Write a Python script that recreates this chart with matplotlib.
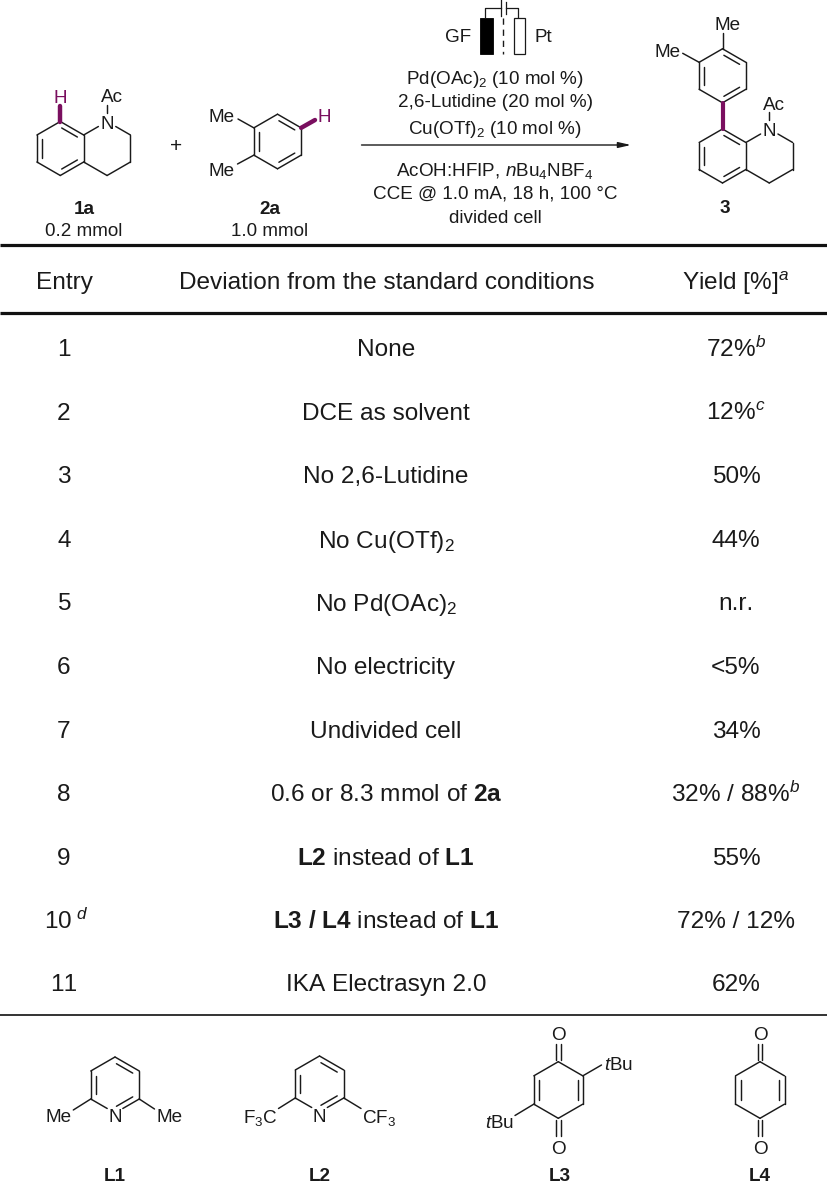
import numpy as np
import matplotlib
matplotlib.use("Agg")
import matplotlib.pyplot as plt
from matplotlib.patches import Rectangle

plt.rcParams['font.family'] = ['Liberation Sans', 'DejaVu Sans']
plt.rcParams['mathtext.fontset'] = 'custom'
plt.rcParams['mathtext.rm'] = 'Liberation Sans'
plt.rcParams['mathtext.it'] = 'Liberation Sans:italic'
plt.rcParams['mathtext.bf'] = 'Liberation Sans:bold'
plt.rcParams['mathtext.default'] = 'regular'
plt.rcParams['text.kerning_factor'] = 6

# table contents
headers = ['Entry', 'Deviation from the standard conditions', 'Yield [%]$^{\\mathit{a}}$']
entries = ['1', '2', '3', '4', '5', '6', '7', '8', '9', '10$^{\\ \\mathit{d}}$', '11']
deviations = ['None', 'DCE as solvent', 'No 2,6-Lutidine', 'No Cu(OTf)$_2$', 'No Pd(OAc)$_2$',
              'No electricity', 'Undivided cell', '0.6 or 8.3 mmol of $\\mathbf{2a}$',
              '$\\mathbf{L2}$ instead of $\\mathbf{L1}$',
              '$\\mathbf{L3\\ /\\ L4}$ instead of $\\mathbf{L1}$', 'IKA Electrasyn 2.0']
yields = ['72%$^{\\mathit{b}}$', '12%$^{\\mathit{c}}$', '50%', '44%', 'n.r.', '<5%', '34%',
          '32% / 88%$^{\\mathit{b}}$', '55%', '72% / 12%', '62%']
row_y = [347, 411, 474, 538, 601, 665, 729, 792, 856, 919, 982]

conditions_top = ['Pd(OAc)$_2$ (10 mol %)', '2,6-Lutidine (20 mol %)', 'Cu(OTf)$_2$ (10 mol %)']
conditions_bottom = ['AcOH:HFIP, $\\mathit{n}$Bu$_4$NBF$_4$', 'CCE @ 1.0 mA, 18 h, 100 °C', 'divided cell']

INK = '#1a1a1a'
PURPLE = '#7a0f5f'
TABLE_FS = 17.6
CHEM_FS = 13.6
BOND = 1.05

fig = plt.figure(figsize=(8.27, 11.83), dpi=100)
ax = fig.add_axes([0, 0, 1, 1])
ax.set_xlim(0, 827)
ax.set_ylim(1183, 0)
ax.axis('off')


def label(x, y, s, fs=CHEM_FS, color=INK, weight='normal', ha='center'):
    ax.text(x, y, s, fontsize=fs, color=color, fontweight=weight, ha=ha, va='center_baseline')


def hexagon(cx, cy, r):
    # pointy top: 0 top, 1 upper right, 2 lower right, 3 bottom, 4 lower left, 5 upper left
    ang = np.radians(90 - 60 * np.arange(6))
    return np.column_stack([cx + r * np.cos(ang), cy - r * np.sin(ang)])


def bond(p, q, trim_p=0, trim_q=0, color=INK, lw=BOND):
    p, q = np.array(p, float), np.array(q, float)
    u = (q - p) / np.hypot(*(q - p))
    a, b = p + u * trim_p, q - u * trim_q
    ax.plot([a[0], b[0]], [a[1], b[1]], color=color, lw=lw, solid_capstyle='round')


def ring(pts, doubles, skip=(), centre=None):
    # draws the six sides, with an inner line for each double bond
    c = pts.mean(axis=0) if centre is None else centre
    for i in range(6):
        if i not in skip:
            bond(pts[i], pts[(i + 1) % 6])
    for i in doubles:
        a, b = pts[i], pts[(i + 1) % 6]
        a2 = c + (a - c) * 0.79
        b2 = c + (b - c) * 0.79
        mid = (a2 + b2) / 2
        bond(mid + (a2 - mid) * 0.85, mid + (b2 - mid) * 0.85)


def quinoline(cx, cy, r):
    # benzene ring with the saturated N ring fused on its right side
    pts = hexagon(cx, cy, r)
    ring(pts, [0, 2, 4])
    p2 = hexagon(cx + 2 * r * np.cos(np.pi / 6), cy, r)
    n = p2[0]
    bond(p2[5], n, 0, 10)
    bond(n, p2[1], 10, 0)
    bond(p2[1], p2[2])
    bond(p2[2], p2[3])
    bond(p2[3], p2[4])
    label(n[0], n[1] + 0.5, 'N')
    bond(n, (n[0], n[1] - 17), 9, 0)
    label(n[0] + 5, n[1] - 26, 'Ac')
    return pts


# substrate 1a
p1a = quinoline(60.3, 148.5, 27)
bond(p1a[0], (p1a[0][0], 106), color=PURPLE, lw=3.2)
label(60.3, 96.5, 'H', color=PURPLE)
label(84, 207, '1a', weight='bold')
label(84, 229, '0.2 mmol')

label(175.7, 144, '+', fs=15)

# substrate 2a
p2a = hexagon(277.5, 141.5, 27.3)
ring(p2a, [0, 2, 4])
bond(p2a[5], (238, 119))
bond(p2a[4], (237.5, 164))
bond(p2a[1], (315, 120), color=PURPLE, lw=3.2)
label(222, 115.5, 'Me')
label(222, 169.5, 'Me')
label(324.5, 115.5, 'H', color=PURPLE)
label(270, 207, '2a', weight='bold')
label(270, 229, '1.0 mmol')

# electrode sketch
ax.add_patch(Rectangle((480.3, 18), 12.4, 36, fc='black', ec='black', lw=0.6))
ax.add_patch(Rectangle((513.5, 18), 11.5, 36, fc='white', ec=INK, lw=0.9))
ax.plot([502.7, 502.7], [18, 54], color=INK, lw=1.0, ls=(0, (4.5, 3.5)))
ax.plot([484.5, 484.5, 500.5], [17, 8.3, 8.3], color=INK, lw=0.9)
ax.plot([506, 518.3, 518.3], [8.3, 8.3, 17], color=INK, lw=0.9)
ax.plot([500.5, 500.5], [0, 16], color=INK, lw=0.9)
ax.plot([506, 506], [2, 14], color=INK, lw=0.9)
label(458, 35, 'GF')
label(543.5, 35, 'Pt')

# conditions and arrow
for y, s in zip([76, 100, 126], conditions_top):
    label(495, y, s)
for y, s in zip([168, 192, 216], conditions_bottom):
    label(495, y, s)
ax.annotate('', xy=(631, 145), xytext=(361.5, 145),
            arrowprops=dict(arrowstyle='-|>,head_length=0.75,head_width=0.17', color=INK, lw=1.0,
                            shrinkA=0, shrinkB=0))

# product 3
p3 = quinoline(722.5, 156, 27)
p3b = hexagon(722.5, 75.8, 27)
ring(p3b, [0, 2, 4])
bond(p3b[3], p3[0], color=PURPLE, lw=3.0)
bond(p3b[0], (722.5, 33))
bond(p3b[5], (682.7, 53.3))
label(727.5, 23.5, 'Me')
label(667.5, 50, 'Me')
label(724.5, 206.5, '3', weight='bold')

# table rules
ax.plot([0, 827], [245, 245], color='#111111', lw=2.3, solid_capstyle='butt')
ax.plot([0, 827], [313, 313], color='#111111', lw=2.3, solid_capstyle='butt')
ax.plot([0, 827], [1014.5, 1014.5], color='#111111', lw=1.2, solid_capstyle='butt')

# table text
for x, s in zip([64, 386.3, 736], headers):
    label(x, 280, s, fs=TABLE_FS)
for y, e, d, yld in zip(row_y, entries, deviations, yields):
    label(66.5 if '$' in e else 64, y, e, fs=TABLE_FS)
    label(386, y, d, fs=TABLE_FS)
    label(736, y, yld, fs=TABLE_FS)

# ligands
pL1 = hexagon(115, 1085, 28)
ring(pL1, [4, 0, 2], skip=(2, 3))
bond(pL1[2], pL1[3], 0, 9)
bond(pL1[3], pL1[4], 9, 0)
bond(pL1[4], (73.3, 1110))
bond(pL1[2], (154.5, 1109))
label(115, 1116, 'N')
label(58.5, 1116, 'Me')
label(170, 1116, 'Me')
label(115, 1174.5, 'L1', weight='bold')

pL2 = hexagon(319.5, 1084, 28)
ring(pL2, [4, 0, 2], skip=(2, 3))
bond(pL2[2], pL2[3], 0, 9)
bond(pL2[3], pL2[4], 9, 0)
bond(pL2[4], (278.5, 1108.5))
bond(pL2[2], (361, 1108.5))
label(319.5, 1115, 'N')
label(260.5, 1116, 'F$_3$C')
label(379, 1116, 'CF$_3$')
label(320, 1174.5, 'L2', weight='bold')


def quinone(cx, cy):
    pts = hexagon(cx, cy, 28.3)
    ring(pts, [1, 4])
    for sign, s in [(0, -1), (3, 1)]:
        tip = pts[sign]
        for dx in (-2.4, 2.4):
            bond((tip[0] + dx, tip[1] + 2 * s), (tip[0] + dx, tip[1] + 18 * s))
        label(cx, cy + 57 * s, 'O')
    return pts


pL3 = quinone(558.3, 1090)
bond(pL3[1], (601.5, 1065))
bond(pL3[4], (515, 1115.5))
label(619, 1063.5, '$\\mathit{t}$Bu')
label(500, 1121, '$\\mathit{t}$Bu')
label(560, 1174.5, 'L3', weight='bold')

quinone(760, 1090)
label(760, 1174.5, 'L4', weight='bold')

fig.savefig('out.png', dpi=100, facecolor='white')
